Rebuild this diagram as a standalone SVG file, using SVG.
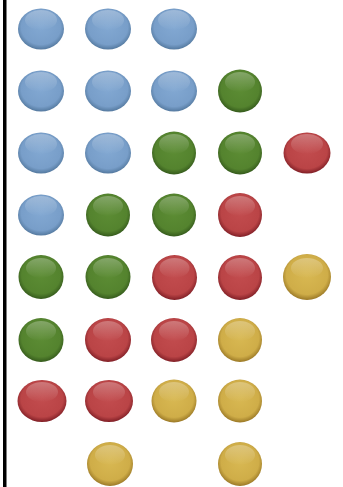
<svg xmlns="http://www.w3.org/2000/svg" width="343" height="487" viewBox="0 0 343 487">
<defs>
<radialGradient id="gB" cx="50%" cy="45%" r="55%"><stop offset="0" stop-color="#82a8d2"/><stop offset="0.78" stop-color="#789ec9"/><stop offset="1" stop-color="#54799f"/></radialGradient>
<radialGradient id="gG" cx="50%" cy="45%" r="55%"><stop offset="0" stop-color="#5c8c34"/><stop offset="0.78" stop-color="#54832e"/><stop offset="1" stop-color="#355a1c"/></radialGradient>
<radialGradient id="gR" cx="50%" cy="45%" r="55%"><stop offset="0" stop-color="#c24c4e"/><stop offset="0.78" stop-color="#ba4446"/><stop offset="1" stop-color="#801f26"/></radialGradient>
<radialGradient id="gY" cx="50%" cy="45%" r="55%"><stop offset="0" stop-color="#d8b852"/><stop offset="0.78" stop-color="#cfad48"/><stop offset="1" stop-color="#9a7826"/></radialGradient>
<linearGradient id="hl" x1="0" y1="0" x2="0" y2="1"><stop offset="0" stop-color="#fff" stop-opacity="0.28"/><stop offset="1" stop-color="#fff" stop-opacity="0"/></linearGradient>
</defs>
<style>
.b{fill:url(#gB)}.g{fill:url(#gG)}.r{fill:url(#gR)}.y{fill:url(#gY)}
.h{fill:url(#hl)}
</style>
<rect width="343" height="487" fill="#fff"/>
<rect x="3" y="0" width="3.5" height="487" fill="#000"/>
<g id="balls">
<g id="r1c1"><ellipse class="b" cx="41" cy="29" rx="23" ry="20.5"/><ellipse class="h" cx="41" cy="20" rx="16" ry="10"/></g>
<g id="r1c2"><ellipse class="b" cx="108" cy="29" rx="23" ry="20.5"/><ellipse class="h" cx="108" cy="20" rx="16" ry="10"/></g>
<g id="r1c3"><ellipse class="b" cx="174" cy="29" rx="23" ry="20.5"/><ellipse class="h" cx="174" cy="20" rx="16" ry="10"/></g>

<g id="r2c1"><ellipse class="b" cx="41" cy="91" rx="23" ry="20.5"/><ellipse class="h" cx="41" cy="82" rx="16" ry="10"/></g>
<g id="r2c2"><ellipse class="b" cx="108" cy="91" rx="23" ry="20.5"/><ellipse class="h" cx="108" cy="82" rx="16" ry="10"/></g>
<g id="r2c3"><ellipse class="b" cx="174" cy="91" rx="23" ry="20.5"/><ellipse class="h" cx="174" cy="82" rx="16" ry="10"/></g>
<g id="r2c4"><ellipse class="g" cx="240" cy="91" rx="22" ry="21.5"/><ellipse class="h" cx="240" cy="82" rx="15" ry="10"/></g>

<g id="r3c1"><ellipse class="b" cx="41" cy="153" rx="23" ry="20.5"/><ellipse class="h" cx="41" cy="144" rx="16" ry="10"/></g>
<g id="r3c2"><ellipse class="b" cx="108" cy="153" rx="23" ry="20.5"/><ellipse class="h" cx="108" cy="144" rx="16" ry="10"/></g>
<g id="r3c3"><ellipse class="g" cx="174" cy="153" rx="22" ry="21.5"/><ellipse class="h" cx="174" cy="144" rx="15" ry="10"/></g>
<g id="r3c4"><ellipse class="g" cx="240" cy="153" rx="22" ry="21.5"/><ellipse class="h" cx="240" cy="144" rx="15" ry="10"/></g>
<g id="r3c5"><ellipse class="r" cx="307" cy="153" rx="23.5" ry="20.5"/><ellipse class="h" cx="307" cy="144" rx="16" ry="10"/></g>

<g id="r4c1"><ellipse class="b" cx="41" cy="215" rx="23" ry="20.5"/><ellipse class="h" cx="41" cy="206" rx="16" ry="10"/></g>
<g id="r4c2"><ellipse class="g" cx="108" cy="215" rx="22" ry="21.5"/><ellipse class="h" cx="108" cy="206" rx="15" ry="10"/></g>
<g id="r4c3"><ellipse class="g" cx="174" cy="215" rx="22" ry="21.5"/><ellipse class="h" cx="174" cy="206" rx="15" ry="10"/></g>
<g id="r4c4"><ellipse class="r" cx="240" cy="215" rx="22" ry="22"/><ellipse class="h" cx="240" cy="206" rx="15" ry="10"/></g>

<g id="r5c1"><ellipse class="g" cx="41" cy="277" rx="22.5" ry="22"/><ellipse class="h" cx="41" cy="268" rx="15" ry="10"/></g>
<g id="r5c2"><ellipse class="g" cx="108" cy="277" rx="22.5" ry="22"/><ellipse class="h" cx="108" cy="268" rx="15" ry="10"/></g>
<g id="r5c3"><ellipse class="r" cx="174.5" cy="277.5" rx="22.5" ry="22.5"/><ellipse class="h" cx="174.5" cy="268" rx="15" ry="10"/></g>
<g id="r5c4"><ellipse class="r" cx="240" cy="277.5" rx="22" ry="22.5"/><ellipse class="h" cx="240" cy="268" rx="15" ry="10"/></g>
<g id="r5c5"><ellipse class="y" cx="307" cy="277" rx="24" ry="23"/><ellipse class="h" cx="307" cy="268" rx="16" ry="10"/></g>

<g id="r6c1"><ellipse class="g" cx="41" cy="340" rx="22.5" ry="22"/><ellipse class="h" cx="41" cy="331" rx="15" ry="10"/></g>
<g id="r6c2"><ellipse class="r" cx="108" cy="340" rx="23" ry="22"/><ellipse class="h" cx="108" cy="331" rx="15" ry="10"/></g>
<g id="r6c3"><ellipse class="r" cx="174" cy="340" rx="23" ry="22"/><ellipse class="h" cx="174" cy="331" rx="15" ry="10"/></g>
<g id="r6c4"><ellipse class="y" cx="240" cy="340" rx="22" ry="22"/><ellipse class="h" cx="240" cy="331" rx="15" ry="10"/></g>

<g id="r7c1"><ellipse class="r" cx="42" cy="401" rx="24.5" ry="21"/><ellipse class="h" cx="42" cy="392" rx="16" ry="10"/></g>
<g id="r7c2"><ellipse class="r" cx="109" cy="401" rx="24" ry="21"/><ellipse class="h" cx="109" cy="392" rx="16" ry="10"/></g>
<g id="r7c3"><ellipse class="y" cx="174" cy="401" rx="22.5" ry="21.5"/><ellipse class="h" cx="174" cy="392" rx="15" ry="10"/></g>
<g id="r7c4"><ellipse class="y" cx="240" cy="401" rx="22" ry="21.5"/><ellipse class="h" cx="240" cy="392" rx="15" ry="10"/></g>

<g id="r8c2"><ellipse class="y" cx="110" cy="464" rx="23" ry="22"/><ellipse class="h" cx="110" cy="455" rx="15" ry="10"/></g>
<g id="r8c4"><ellipse class="y" cx="240" cy="464" rx="22" ry="22"/><ellipse class="h" cx="240" cy="455" rx="15" ry="10"/></g>
</g>
</svg>
